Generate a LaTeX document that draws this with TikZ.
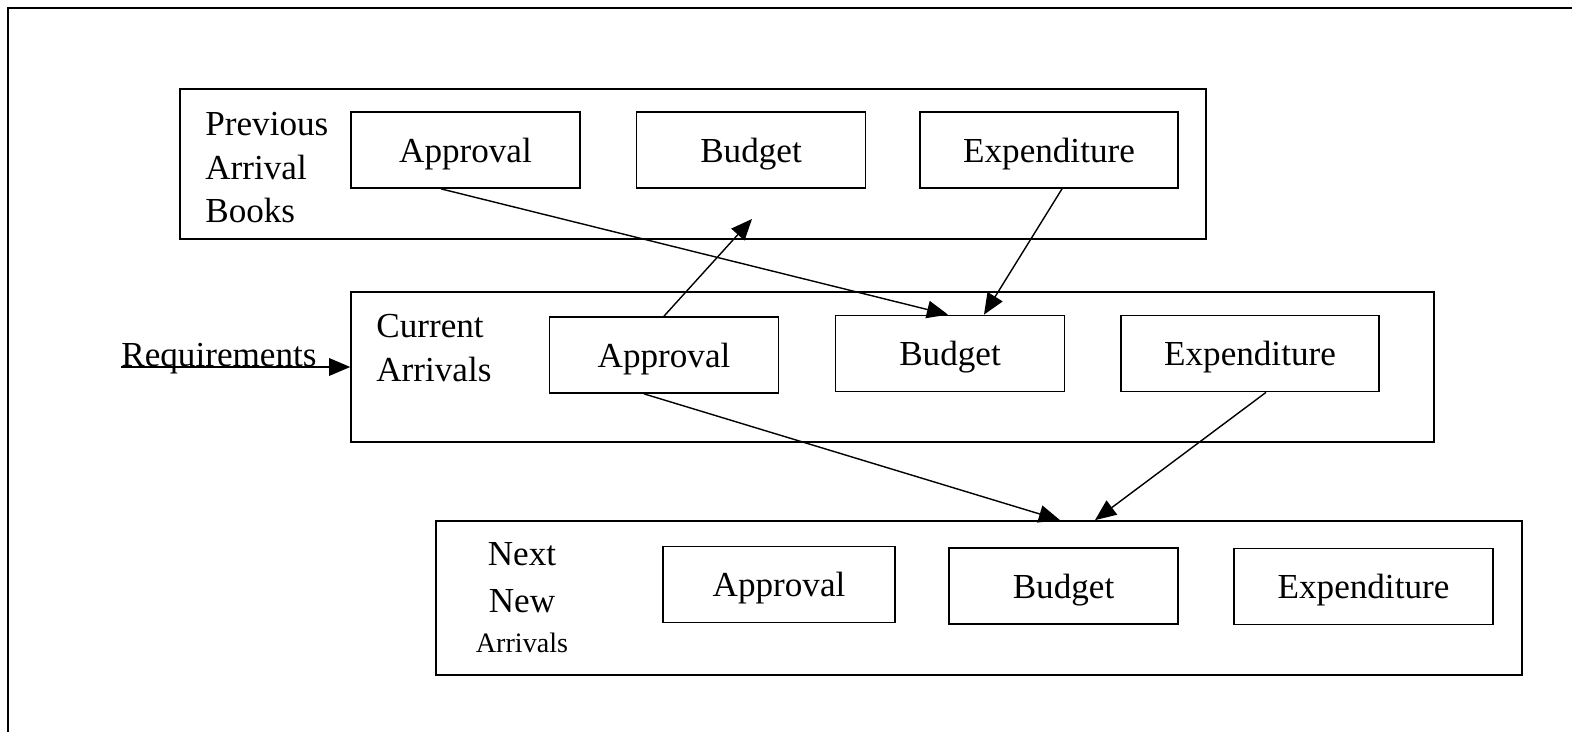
\documentclass[tikz,border=0pt]{standalone}
\usepackage{fontspec}
\setmainfont{Liberation Serif}
\usetikzlibrary{arrows.meta}

\begin{document}
\begin{tikzpicture}
  [x=0.02cm,y=-0.02cm,
   grpbox/.style={draw,line width=1pt,inner sep=0pt},
   inbox/.style={draw,line width=1pt,inner sep=0pt,minimum width=4.58cm,minimum height=1.52cm,
     text height=14pt,text depth=0pt,font=\fontsize{20}{24}\selectfont},
   grptext/.style={inner sep=0pt,font=\fontsize{20}{24.7}\selectfont},
   flow/.style={line width=0.8pt,-{Triangle[length=12pt,width=10pt]}}]
  \useasboundingbox (0,0) rectangle (1572,732);
  \draw[line width=1.2pt] (8,732) -- (8,8) -- (1572,8);

  % previous arrival books
  \node[grpbox,minimum width=20.52cm,minimum height=3cm] (prevA) at (693,164) {};
  \node[inbox] (apprA) at (465.5,150) {Approval};
  \node[inbox] (budA) at (751,150) {Budget};
  \node[inbox,minimum width=5.16cm] (expA) at (1049,150) {Expenditure};
  \node[grptext,align=left,anchor=north west] (txtA) at (205,112) {Previous\\Arrival\\Books};

  % current arrivals
  \node[grpbox,minimum width=21.66cm,minimum height=3cm] (curB) at (892.5,367) {};
  \node[inbox] (apprB) at (664,355) {Approval};
  \node[inbox] (budB) at (950,353.5) {Budget};
  \node[inbox,minimum width=5.16cm] (expB) at (1250,353.5) {Expenditure};
  \node[grptext,align=left,anchor=north west] (txtB) at (376,314) {Current\\Arrivals};

  % next new arrivals
  \node[grpbox,minimum width=21.72cm,minimum height=3.08cm] (nextC) at (979,598) {};
  \node[inbox,minimum width=4.64cm] (apprC) at (779,584.5) {Approval};
  \node[inbox] (budC) at (1063.5,586) {Budget};
  \node[inbox,minimum width=5.18cm] (expC) at (1363.5,586.5) {Expenditure};
  \node[grptext,align=center,anchor=north,font=\fontsize{20}{26.7}\selectfont] (txtC) at (522,542)
    {Next\\New\\[-4pt]{\fontsize{16}{19}\selectfont Arrivals}};

  \node[grptext,anchor=base west] (req) at (121,367) {Requirements};
  \coordinate (upend) at (752,219);

  \draw[flow] (req.base west) -- (curB.west);
  \draw[flow] (apprB.north) -- (upend);
  \foreach \from/\dx/\to/\ex in {apprA.south/-0.49/budB.north/-0.04,expA.south/0.26/budB.north/0.68,
    apprB.south/-0.4/nextC.north/1.62,expB.south/0.32/nextC.north/2.32}
  \draw[flow] ([xshift=\dx cm]\from) -- ([xshift=\ex cm]\to);

\end{tikzpicture}
\end{document}
